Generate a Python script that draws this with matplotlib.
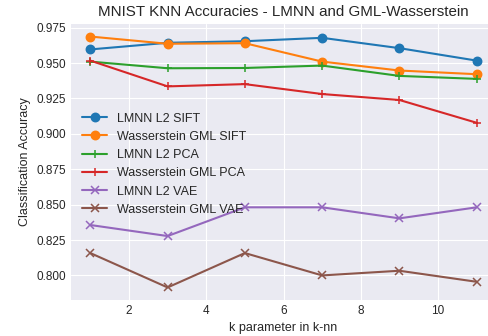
import matplotlib
matplotlib.use("Agg")
import matplotlib.pyplot as plt

plt.style.use("seaborn-v0_8-darkgrid")
plt.rcParams["font.family"] = ["Liberation Sans", "DejaVu Sans"]

k_values = [1, 3, 5, 7, 9, 11]

lmnn_sift = [0.9596, 0.9643, 0.9654, 0.9678, 0.9605, 0.9517]
wass_sift = [0.9687, 0.9636, 0.9640, 0.9510, 0.9447, 0.9421]
lmnn_pca = [0.9510, 0.9463, 0.9465, 0.9482, 0.9409, 0.9388]
wass_pca = [0.9517, 0.9335, 0.9351, 0.9281, 0.9239, 0.9078]
lmnn_vae = [0.8356, 0.8278, 0.8481, 0.8481, 0.8403, 0.8481]
wass_vae = [0.8158, 0.7915, 0.8158, 0.8000, 0.8033, 0.7955]

series = [
    ("LMNN L2 SIFT", lmnn_sift, "o"),
    ("Wasserstein GML SIFT", wass_sift, "o"),
    ("LMNN L2 PCA", lmnn_pca, "+"),
    ("Wasserstein GML PCA", wass_pca, "+"),
    ("LMNN L2 VAE", lmnn_vae, "x"),
    ("Wasserstein GML VAE", wass_vae, "x"),
]

W, H = 489, 336
fig = plt.figure(figsize=(W / 100, H / 100), dpi=100)
ax = fig.add_axes([71 / W, 1 - 300 / H, (496 - 71) / W, (300 - 24) / H])

for label, vals, marker in series:
    ax.plot(k_values, vals, marker=marker, label=label, markersize=6,
            markeredgewidth=1.1, linewidth=1.5)

ax.set_title("MNIST KNN Accuracies - LMNN and GML-Wasserstein", fontsize=10.9)
ax.set_xlabel("k parameter in k-nn", fontsize=9)
ax.set_ylabel("Classification Accuracy", fontsize=9)
ax.tick_params(labelsize=8.5)
ax.legend(loc="upper left", bbox_to_anchor=(0.0, 0.72), fontsize=9,
          frameon=False)

fig.savefig("out.png", dpi=100)
